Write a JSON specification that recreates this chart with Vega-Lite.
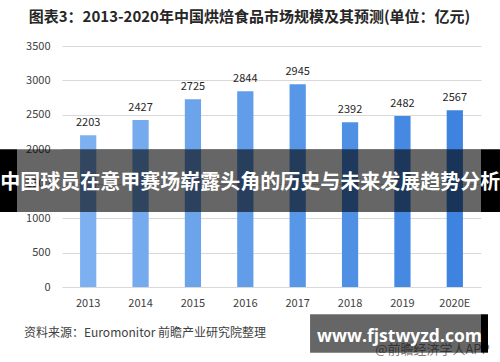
{
  "$schema": "https://vega.github.io/schema/vega-lite/v6.json",
  "width": 419,
  "height": 241,
  "autosize": {"type": "none"},
  "padding": {"left": 62, "top": 46, "right": 19, "bottom": 75},
  "background": "white",
  "config": {"view": {"stroke": null}, "font": "Noto Sans CJK SC"},
  "title": {
    "text": "图表3：2013-2020年中国烘焙食品市场规模及其预测(单位：亿元)",
    "fontSize": 15,
    "fontWeight": "bold",
    "color": "#262626",
    "anchor": "middle",
    "dx": -22,
    "offset": 15,
    "font": "Noto Sans CJK SC"
  },
  "resolve": {"scale": {"x": "independent"}, "axis": {"x": "independent", "y": "independent"}},
  "layer": [
    {
      "data": {
        "values": [
          {"year": "2013", "value": 2203},
          {"year": "2014", "value": 2427},
          {"year": "2015", "value": 2725},
          {"year": "2016", "value": 2844},
          {"year": "2017", "value": 2945},
          {"year": "2018", "value": 2392},
          {"year": "2019", "value": 2482},
          {"year": "2020E", "value": 2567}
        ]
      },
      "encoding": {
        "x": {
          "field": "year",
          "type": "nominal",
          "sort": null,
          "scale": {"paddingInner": 0.69, "paddingOuter": 0.345},
          "axis": {
            "title": null,
            "labelAngle": 0,
            "labelFontSize": 11,
            "labelColor": "#404040",
            "labelPadding": 10,
            "ticks": false,
            "domain": false
          }
        },
        "y": {
          "field": "value",
          "type": "quantitative",
          "scale": {"domain": [0, 3500], "nice": false},
          "axis": {
            "title": null,
            "values": [0, 500, 1000, 1500, 2000, 2500, 3000, 3500],
            "tickCount": 8,
            "format": "d",
            "labelOverlap": false,
            "labelFontSize": 11,
            "labelColor": "#404040",
            "labelPadding": 12,
            "ticks": false,
            "domain": false,
            "gridColor": "#d9d9d9",
            "gridWidth": 1
          }
        }
      },
      "layer": [
        {
          "mark": {"type": "bar"},
          "encoding": {
            "color": {
              "field": "year",
              "type": "nominal",
              "scale": {
                "domain": ["2013", "2014", "2015", "2016", "2017", "2018", "2019", "2020E"],
                "range": ["#7DB0F0", "#75AAEE", "#6CA4EB", "#629DE9", "#5896E7", "#4F90E5", "#4689E2", "#3E83DF"]
              },
              "legend": null
            }
          }
        },
        {
          "mark": {"type": "text", "baseline": "middle", "dy": -12, "fontSize": 11, "color": "#262626"},
          "encoding": {"text": {"field": "value", "type": "quantitative", "format": "d"}}
        }
      ]
    },
    {
      "data": {"values": [{}]},
      "layer": [
        {
          "mark": {"type": "text", "align": "left", "baseline": "middle", "fontSize": 12, "color": "#404040", "clip": false},
          "encoding": {
            "x": {"datum": -0.0907, "type": "quantitative", "scale": {"domain": [0, 1], "nice": false, "zero": false}, "axis": null},
            "y": {"datum": -664, "type": "quantitative", "axis": null},
            "text": {"value": "资料来源：Euromonitor 前瞻产业研究院整理"}
          }
        },
        {
          "mark": {"type": "text", "align": "right", "baseline": "middle", "fontSize": 13, "color": "#7f7f7f", "clip": false},
          "encoding": {
            "x": {"datum": 1.021, "type": "quantitative", "axis": null},
            "y": {"datum": -915, "type": "quantitative", "axis": null},
            "text": {"value": "@前瞻经济学人APP"}
          }
        },
        {
          "mark": {"type": "rect", "color": "black", "opacity": 0.6, "clip": false},
          "encoding": {
            "x": {"datum": -0.1074, "type": "quantitative", "axis": null},
            "x2": {"datum": 1.0},
            "y": {"datum": 2000, "type": "quantitative", "axis": null},
            "y2": {"datum": 1090}
          }
        },
        {
          "mark": {"type": "rect", "color": "black", "opacity": 1, "clip": false},
          "encoding": {
            "x": {"datum": -0.148, "type": "quantitative", "axis": null},
            "x2": {"datum": -0.1074},
            "y": {"datum": 2000, "type": "quantitative", "axis": null},
            "y2": {"datum": 1090}
          }
        },
        {
          "mark": {"type": "rect", "color": "black", "opacity": 1, "clip": false},
          "encoding": {
            "x": {"datum": 1.0, "type": "quantitative", "axis": null},
            "x2": {"datum": 1.0453},
            "y": {"datum": 2000, "type": "quantitative", "axis": null},
            "y2": {"datum": 1090}
          }
        },
        {
          "mark": {"type": "rect", "color": "black", "opacity": 0.6, "clip": false},
          "encoding": {
            "x": {"datum": 0.592, "type": "quantitative", "axis": null},
            "x2": {"datum": 1.0},
            "y": {"datum": -396, "type": "quantitative", "axis": null},
            "y2": {"datum": -954}
          }
        },
        {
          "mark": {"type": "rect", "color": "black", "opacity": 1, "clip": false},
          "encoding": {
            "x": {"datum": 1.0, "type": "quantitative", "axis": null},
            "x2": {"datum": 1.0167},
            "y": {"datum": -396, "type": "quantitative", "axis": null},
            "y2": {"datum": -954}
          }
        },
        {
          "mark": {"type": "text", "align": "center", "baseline": "middle", "fontSize": 20, "fontWeight": "bold", "color": "white", "clip": false},
          "encoding": {
            "x": {"datum": 0.449, "type": "quantitative", "axis": null},
            "y": {"datum": 1510, "type": "quantitative", "axis": null},
            "text": {"value": "中国球员在意甲赛场崭露头角的历史与未来发展趋势分析"}
          }
        },
        {
          "mark": {"type": "text", "align": "center", "baseline": "middle", "fontSize": 17.5, "fontWeight": "bold", "color": "white", "font": "Open Sans", "clip": false},
          "encoding": {
            "x": {"datum": 0.8055, "type": "quantitative", "axis": null},
            "y": {"datum": -722, "type": "quantitative", "axis": null},
            "text": {"value": "www.fjstwyzd.com"}
          }
        }
      ]
    }
  ]
}
